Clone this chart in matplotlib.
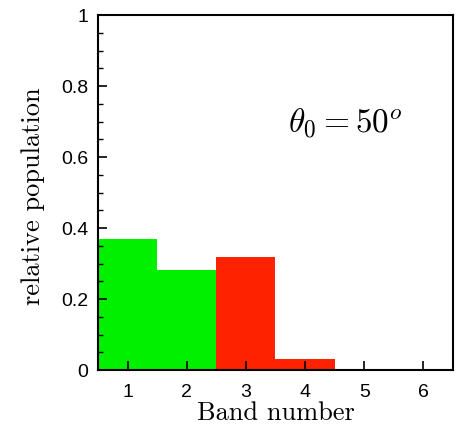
import matplotlib
matplotlib.use('Agg')
import matplotlib.pyplot as plt
from matplotlib.ticker import MultipleLocator, FormatStrFormatter

bands = [1, 2, 3, 4, 5, 6]
population = [0.369, 0.282, 0.319, 0.030, 0.0, 0.0]
bar_colors = ['#00f000', '#00f000', '#ff2200', '#ff2200', '#ff2200', '#ff2200']
yticks = [0, 0.2, 0.4, 0.6, 0.8, 1]

plt.rcParams['mathtext.fontset'] = 'cm'

fig = plt.figure(figsize=(4.58, 4.30), dpi=100)
ax = fig.add_axes([0.214, 0.1395, 0.775, 0.8255])

ax.bar(bands, population, width=1.0, color=bar_colors, edgecolor='none')

ax.set_xlim(0.5, 6.5)
ax.set_ylim(0, 1)
ax.set_xticks(bands)
ax.set_yticks(yticks)
ax.yaxis.set_minor_locator(MultipleLocator(0.05))
ax.yaxis.set_major_formatter(FormatStrFormatter('%g'))

ax.tick_params(axis='both', which='both', direction='in', top=False, right=False,
               labelsize=14)
ax.tick_params(which='major', length=6.5, width=1.2, pad=7)
ax.tick_params(axis='x', which='major', pad=10)
ax.tick_params(which='minor', length=3.6, width=1.0)
for lab in ax.get_xticklabels() + ax.get_yticklabels():
    lab.set_family('Liberation Sans')
for s in ax.spines.values():
    s.set_linewidth(1.5)

ax.set_xlabel('Band number', family='cmr10', fontsize=19, labelpad=0)
ax.set_ylabel('relative population', family='cmr10', fontsize=19)
ax.yaxis.set_label_coords(-0.15, 0.49)

ax.text(4.69, 0.695, r'$\theta_0 = 50^o$', fontsize=24, ha='center', va='center')

fig.savefig('out.png', dpi=100)
